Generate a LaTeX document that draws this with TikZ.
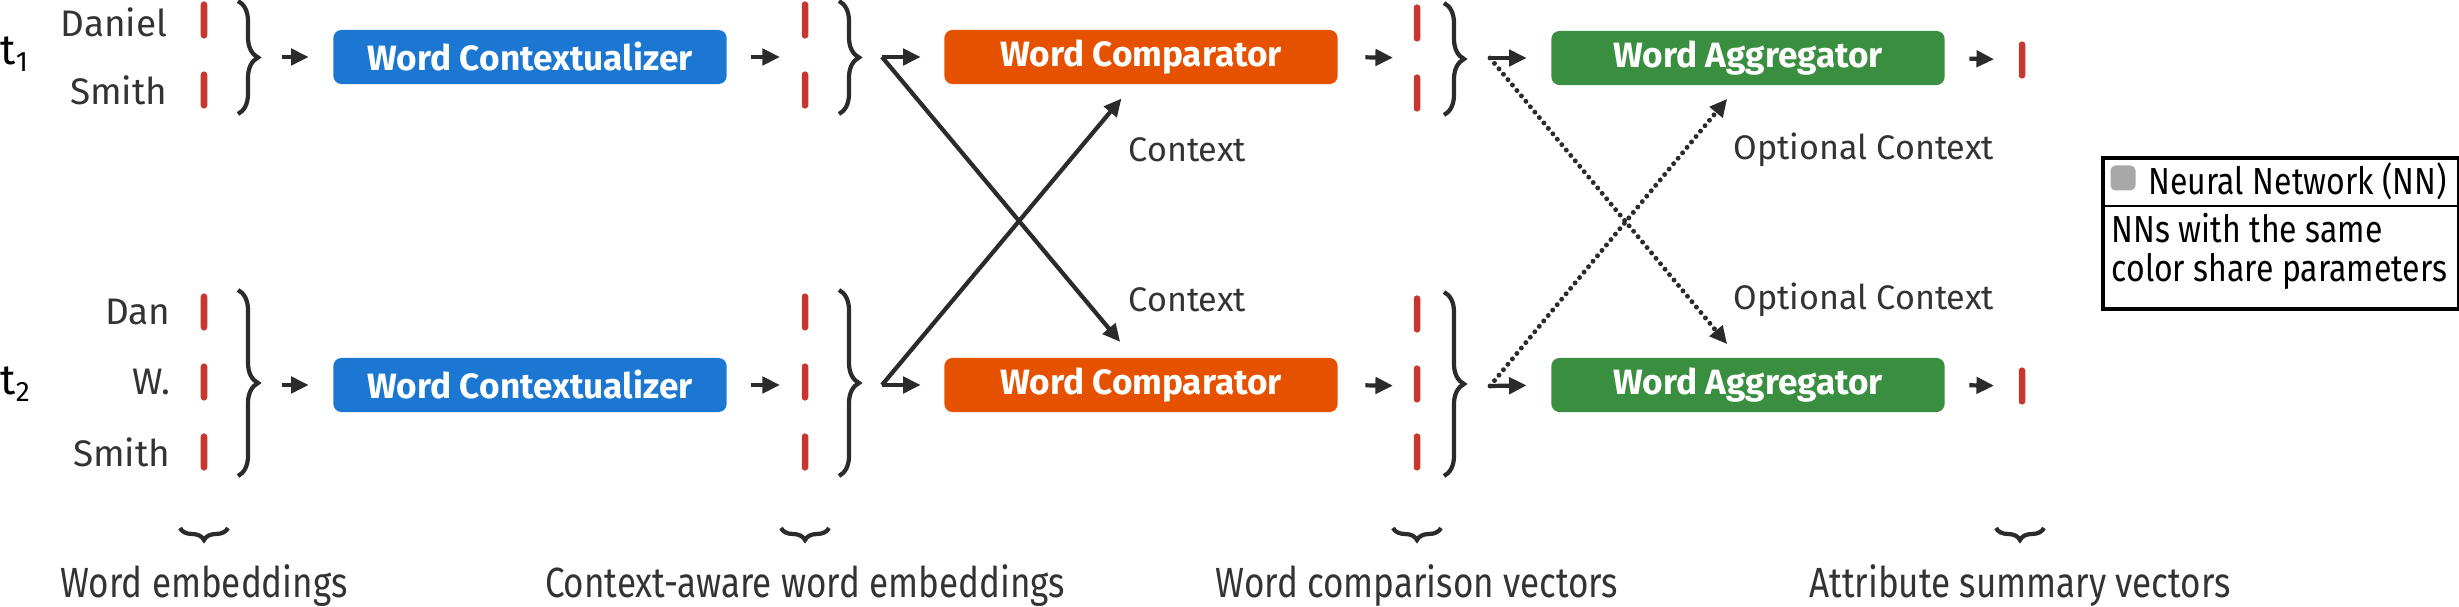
\documentclass[tikz,border=0pt]{standalone}
\usepackage{fontspec}
\setmainfont{Fira Sans}
\newfontfamily\condfont[FakeStretch=0.83]{Fira Sans}
\newfontfamily\legfont[FakeStretch=0.85]{Fira Sans}
\usetikzlibrary{arrows.meta,decorations.pathreplacing,positioning,calc}

\definecolor{ctxblue}{HTML}{1C77D2}
\definecolor{cmporange}{HTML}{E65100}
\definecolor{agggreen}{HTML}{3A8E40}
\definecolor{vecred}{HTML}{C8372D}
\definecolor{ink}{HTML}{2B2B2B}
\definecolor{txtgray}{HTML}{333333}
\definecolor{nngray}{HTML}{A8A8A8}

\tikzset{
  nnbox/.style={rounded corners=0.08cm, minimum width=3.93cm, minimum height=0.54cm,
    inner sep=0pt, text=white, font=\fontsize{10}{12}\selectfont\bfseries},
  vec/.style={fill=vecred, rounded corners=0.03cm, minimum width=0.065cm,
    minimum height=0.37cm, inner sep=0pt},
  word/.style={anchor=east, inner sep=0pt, text=txtgray, font=\fontsize{10.5}{12}\selectfont},
  tok/.style={anchor=west, inner sep=0pt, text=black, font=\fontsize{12}{12}\selectfont},
  note/.style={anchor=west, inner sep=0pt, text=txtgray, font=\fontsize{9.7}{12}\selectfont},
  caption/.style={anchor=base, inner sep=0pt, text=txtgray, font=\condfont\fontsize{12}{12}\selectfont},
  legtext/.style={anchor=west, inner sep=0pt, text=black, font=\legfont\fontsize{10.7}{12}\selectfont},
  flow/.style={-{Triangle[length=5pt,width=4.6pt]}, line width=1.2pt, draw=ink},
  optflow/.style={flow, line width=1.4pt, dash pattern=on 0pt off 2pt, line cap=round},
  grp/.style={decorate, decoration={brace, amplitude=0.2cm}, line width=1.2pt, draw=ink},
  under/.style={decorate, decoration={brace, amplitude=0.12cm}, line width=1.2pt, draw=ink}
}

\begin{document}
\begin{tikzpicture}[x=0.01cm,y=-0.01cm]
\useasboundingbox (0,0) rectangle (2459,607);

% record labels
\node[tok] (t1) at (0,54) {t\textsubscript{1}};
\node[tok] (t2) at (0,384) {t\textsubscript{2}};

\node[word] (daniel) at (168,22) {Daniel};
\node[word] (smithA) at (168,90) {Smith};
\node[word] (dan) at (171,312) {Dan};
\node[word] (w) at (171,382) {W.};
\node[word] (smithB) at (171,452) {Smith};

% vectors
\foreach \n/\x/\y in {eA1/204/20, eA2/204/90, eB1/204/312, eB2/204/382, eB3/204/452,
                      cA1/805/20, cA2/805/90, cB1/805/312, cB2/805/382, cB3/805/452,
                      pA1/1417/23, pA2/1417/93, pB1/1417/314, pB2/1417/384, pB3/1417/452,
                      sA/2022/60, sB/2022/386}
  \node[vec] (\n) at (\x,\y) {};

% networks
\node[nnbox, fill=ctxblue] (ctxA) at (530,57) {Word Contextualizer};
\node[nnbox, fill=ctxblue] (ctxB) at (530,385) {Word Contextualizer};
\node[nnbox, fill=cmporange] (cmpA) at (1141,57) {Word Comparator};
\node[nnbox, fill=cmporange] (cmpB) at (1141,385) {Word Comparator};
\node[nnbox, fill=agggreen] (aggA) at (1748,58) {Word Aggregator};
\node[nnbox, fill=agggreen] (aggB) at (1748,385) {Word Aggregator};

% braces
\draw[grp] (238,1) -- (238,114);
\draw[grp] (238,290) -- (238,476);
\draw[grp] (839,1) -- (839,114);
\draw[grp] (839,290) -- (839,476);
\draw[grp] (1444,3) -- (1444,115);
\draw[grp] (1444,292) -- (1444,476);

\coordinate (eAt) at (260,57);
\coordinate (eBt) at (260,385);
\coordinate (cAt) at (882,57);
\coordinate (cBt) at (882,385);
\coordinate (pAt) at (1490,58);
\coordinate (pBt) at (1490,386);
\coordinate (cAm) at (805,57);
\coordinate (cBm) at (805,385);
\coordinate (pAm) at (1417,58);
\coordinate (pBm) at (1417,386);

% main flow
\draw[flow, shorten <=0.22cm, shorten >=0.24cm] (eAt) -- (ctxA.west);
\draw[flow, shorten <=0.22cm, shorten >=0.24cm] (eBt) -- (ctxB.west);
\draw[flow, shorten <=0.24cm, shorten >=0.25cm] (ctxA.east) -- (cAm);
\draw[flow, shorten <=0.24cm, shorten >=0.25cm] (ctxB.east) -- (cBm);
\draw[flow, shorten >=0.23cm] (cAt) -- (cmpA.west);
\draw[flow, shorten >=0.23cm] (cBt) -- (cmpB.west);
\draw[flow, shorten <=0.27cm, shorten >=0.24cm] (cmpA.east) -- (pAm);
\draw[flow, shorten <=0.27cm, shorten >=0.24cm] (cmpB.east) -- (pBm);
\draw[flow, shorten >=0.24cm] (pAt) -- (aggA.west);
\draw[flow, shorten >=0.24cm] (pBt) -- (aggB.west);
\draw[flow, shorten <=0.24cm, shorten >=0.24cm] (aggA.east) -- (sA);
\draw[flow, shorten <=0.24cm, shorten >=0.24cm] (aggB.east) -- (sB);

% cross context
\draw[flow, shorten >=0.2cm] (cAt) -- ([xshift=-0.08cm]cmpB.north);
\draw[flow, shorten >=0.18cm] (cBt) -- ([xshift=-0.08cm]cmpA.south);
\draw[optflow, shorten >=0.17cm] (pAt) -- ([xshift=-0.1cm]aggB.north);
\draw[optflow, shorten >=0.17cm] (pBt) -- ([xshift=-0.1cm]aggA.south);

\node[note] (ctxlA) at (1128,150) {Context};
\node[note] (ctxlB) at (1128,300) {Context};
\node[note] (optlA) at (1733,150) {Optional Context};
\node[note] (optlB) at (1733,300) {Optional Context};

% legend
\node[draw=black, line width=1pt, anchor=north west, minimum width=3.56cm,
  minimum height=1.51cm, inner sep=0pt] (legend) at (2101,156) {};
\draw[line width=0.5pt] (legend.west |- 0,206) -- (legend.east |- 0,206);
\node[fill=nngray, rounded corners=0.05cm, minimum size=0.25cm, inner sep=0pt] (nnkey) at (2123,178) {};
\node[legtext] (nnlbl) at (2148,181) {Neural Network (NN)};
\node[legtext] (shlA) at (2111,228) {NNs with the same};
\node[legtext] (shlB) at (2111,271) {color share parameters};

% column captions
\foreach \n/\x/\t in {capA/204/Word embeddings, capB/805/Context-aware word embeddings,
                      capC/1417/Word comparison vectors, capD/2020/Attribute summary vectors}
  {
    \draw[under] (\x+24,528) -- (\x-24,528);
    \node[caption] (\n) at (\x,598) {\t};
  }
\end{tikzpicture}
\end{document}
